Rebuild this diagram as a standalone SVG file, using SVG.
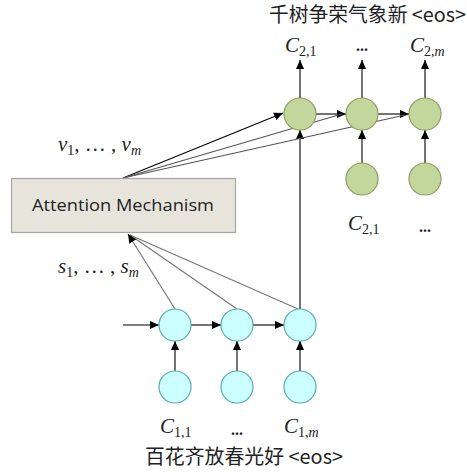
<svg xmlns="http://www.w3.org/2000/svg" width="467" height="473" viewBox="0 0 467 473">
<defs>
<marker id="ah" markerUnits="userSpaceOnUse" markerWidth="9" markerHeight="9" viewBox="0 0 10 10" refX="10" refY="5" orient="auto">
<path d="M0,0.5 L10,5 L0,9.5 Z" fill="#000"/>
</marker>
</defs>
<style>
.g{fill:#c3d69b;stroke:#8e9e60;stroke-width:1.2}
.c{fill:#ccffff;stroke:#5aacac;stroke-width:1.2}
.a{stroke:#000;stroke-width:1.1;fill:none;marker-end:url(#ah)}
.l{stroke:#555;stroke-width:1.1;fill:none}
.li{stroke:#777;stroke-width:1.2;fill:none}
.cjk{font-family:"Noto Sans CJK SC","Noto Sans",sans-serif;font-size:20px;fill:#222}
.m{font-family:"Liberation Serif",serif;font-style:italic;font-size:21px;fill:#222}
.sub{font-style:normal;font-size:14px}
.box{font-family:"Open Sans","Noto Sans",sans-serif;font-size:17px;fill:#222}
</style>
<g id="connectors">
<line class="a" x1="300" y1="98" x2="300" y2="60"/>
<line class="a" x1="362" y1="98" x2="362" y2="60"/>
<line class="a" x1="425" y1="98" x2="425" y2="60"/>
<line class="a" x1="316" y1="114" x2="346" y2="114"/>
<line class="a" x1="378" y1="114" x2="409" y2="114"/>
<line class="a" x1="362" y1="163" x2="362" y2="130"/>
<line class="a" x1="425" y1="163" x2="425" y2="130"/>
<line class="a" x1="300" y1="309" x2="300" y2="130"/>
<line class="a" x1="123" y1="178" x2="283" y2="113"/>
<line class="l" x1="123" y1="178" x2="342" y2="114"/>
<line class="l" x1="123" y1="178" x2="405" y2="115"/>
<line class="li" x1="237" y1="309" x2="130" y2="235"/>
<line class="li" x1="298" y1="309" x2="130" y2="235"/>
<line class="li" x1="175" y1="309" x2="128" y2="234" marker-end="url(#ah)"/>
<line class="a" x1="123" y1="325" x2="159" y2="325"/>
<line class="a" x1="191" y1="325" x2="221" y2="325"/>
<line class="a" x1="253" y1="325" x2="284" y2="325"/>
<line class="a" x1="175" y1="371" x2="175" y2="341"/>
<line class="a" x1="237" y1="371" x2="237" y2="341"/>
<line class="a" x1="300" y1="371" x2="300" y2="341"/>
</g>
<g id="attention">
<rect x="11.5" y="178.5" width="224" height="54" fill="#e7e4dc" stroke="#a6a6a6" stroke-width="1.2"/>
<text class="box" x="123" y="211" text-anchor="middle" textLength="182" lengthAdjust="spacingAndGlyphs">Attention Mechanism</text>
</g>
<g id="dec1"><circle class="g" cx="300" cy="114" r="16"/></g>
<g id="dec2"><circle class="g" cx="362" cy="114" r="16"/></g>
<g id="dec3"><circle class="g" cx="425" cy="114" r="16"/></g>
<g id="decin1"><circle class="g" cx="362" cy="179" r="16"/></g>
<g id="decin2"><circle class="g" cx="425" cy="179" r="16"/></g>
<g id="enc1"><circle class="c" cx="175" cy="325" r="16"/></g>
<g id="enc2"><circle class="c" cx="237" cy="325" r="16"/></g>
<g id="enc3"><circle class="c" cx="300" cy="325" r="16"/></g>
<g id="encin1"><circle class="c" cx="175" cy="387" r="16"/></g>
<g id="encin2"><circle class="c" cx="237" cy="387" r="16"/></g>
<g id="encin3"><circle class="c" cx="300" cy="387" r="16"/></g>
<g id="labels">
<text class="cjk" x="269" y="22" textLength="197" lengthAdjust="spacingAndGlyphs">千树争荣气象新 &lt;eos&gt;</text>
<text class="cjk" x="145" y="464" textLength="198" lengthAdjust="spacingAndGlyphs">百花齐放春光好 &lt;eos&gt;</text>
<text class="m" x="285" y="52">C<tspan class="sub" dy="4">2,1</tspan></text>
<text class="m" x="362" y="51" text-anchor="middle" style="font-style:normal;font-weight:bold;font-size:16px">...</text>
<text class="m" x="410" y="52">C<tspan class="sub" dy="4">2,</tspan><tspan class="sub" style="font-style:italic">m</tspan></text>
<text class="m" x="348" y="230">C<tspan class="sub" dy="4">2,1</tspan></text>
<text class="m" x="425" y="232" text-anchor="middle" style="font-style:normal;font-weight:bold;font-size:16px">...</text>
<text class="m" x="160" y="433">C<tspan class="sub" dy="4">1,1</tspan></text>
<text class="m" x="237" y="435" text-anchor="middle" style="font-style:normal;font-weight:bold;font-size:16px">...</text>
<text class="m" x="284" y="433">C<tspan class="sub" dy="4">1,</tspan><tspan class="sub" style="font-style:italic">m</tspan></text>
<text class="m" x="58" y="151">v<tspan class="sub" dy="4">1</tspan><tspan dy="-4" style="font-style:normal">, … , </tspan>v<tspan class="sub" dy="4" style="font-style:italic">m</tspan></text>
<text class="m" x="58" y="273">s<tspan class="sub" dy="4">1</tspan><tspan dy="-4" style="font-style:normal">, … , </tspan>s<tspan class="sub" dy="4" style="font-style:italic">m</tspan></text>
</g>
</svg>
